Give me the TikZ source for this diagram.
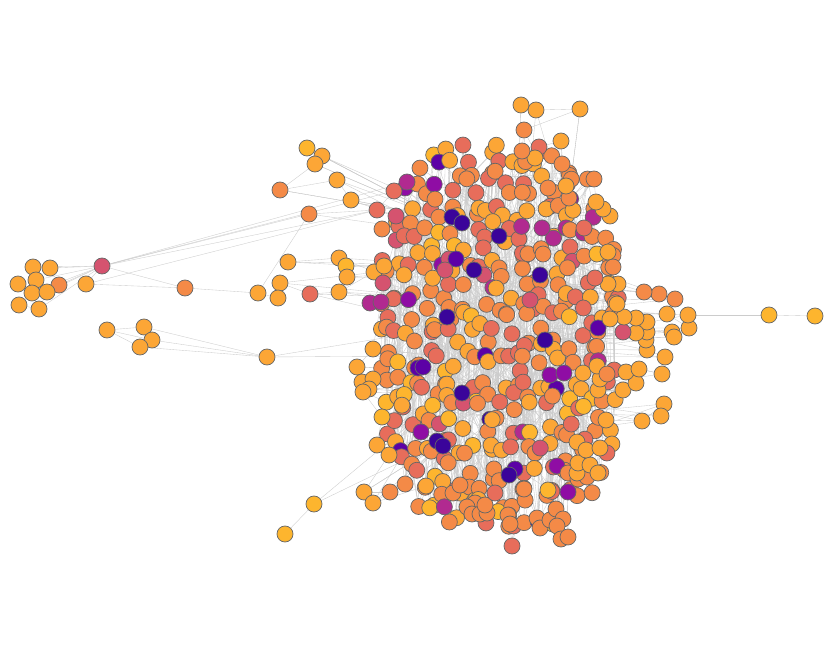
\documentclass[tikz,border=0pt]{standalone}
\usepackage{tikz}

\definecolor{plI}{HTML}{3A049A}
\definecolor{plV}{HTML}{5C01A6}
\definecolor{plP}{HTML}{8F0DA4}
\definecolor{plM}{HTML}{B12A90}
\definecolor{plK}{HTML}{D5536F}
\definecolor{plS}{HTML}{E76D5B}
\definecolor{plO}{HTML}{F48A47}
\definecolor{plY}{HTML}{FCA636}
\definecolor{plG}{HTML}{FDB52E}

\pgfdeclarelayer{paper}
\pgfdeclarelayer{edges}
\pgfsetlayers{paper,edges,main}

\newcount\kcount

\tikzset{
  dot/.style={circle, draw=black!60, line width=0.6pt, minimum size=0.48cm, inner sep=0pt},
  link/.style={draw=black!20, line width=0.3pt},
}

% nodes round the dense part: x/y/colour
\newcommand\rimlist{307/148/plG, 322/156/plY, 315/164/plY, 280/190/plO, 337/180/plY, 351/200/plY,
  396/216/plK, 382/229/plO, 288/262/plY, 339/258/plY, 346/266/plG, 347/277/plY, 280/283/plY,
  310/294/plS, 339/292/plY, 374/272/plY, 384/266/plY, 383/283/plK, 370/303/plM, 381/302/plM,
  373/349/plY, 357/367/plY, 362/382/plY, 373/379/plY, 369/389/plY, 363/392/plY, 382/417/plG,
  377/445/plY, 389/455/plY, 364/492/plY, 390/492/plO, 373/503/plY,
  426/486/plY, 453/493/plO, 460/485/plO, 475/503/plO, 467/507/plO, 472/514/plO, 480/514/plO,
  487/513/plO, 485/505/plO, 495/493/plS, 508/515/plO, 510/524/plO, 512/546/plS, 524/489/plO,
  537/518/plO, 540/528/plO, 550/520/plO, 556/509/plO, 563/519/plO, 557/526/plO, 561/539/plO,
  568/537/plO, 548/490/plG, 568/473/plO, 578/479/plO, 587/477/plO,
  577/473/plY, 578/463/plY, 590/465/plY, 598/473/plY,
  577/442/plY, 586/450/plY, 600/448/plY, 606/420/plY, 642/421/plY, 664/404/plY, 661/416/plY,
  598/390/plY, 623/390/plY, 636/383/plY, 600/379/plY, 583/373/plY, 597/366/plY, 607/374/plO,
  626/372/plY, 639/369/plY, 662/374/plY, 665/357/plY, 647/350/plY,
  646/340/plY, 647/332/plY, 647/322/plY, 636/333/plY, 636/318/plY, 623/332/plK, 624/317/plY,
  610/319/plY, 617/304/plY, 672/332/plY, 674/337/plY, 689/328/plY, 667/314/plY, 675/299/plO,
  659/294/plO, 644/292/plO, 618/284/plY, 608/284/plY, 595/278/plS, 613/267/plO, 597/254/plG,
  608/252/plY, 584/228/plS, 610/216/plY, 603/209/plY, 596/202/plY, 594/179/plO, 569/198/plO,
  566/186/plY, 548/188/plO, 562/164/plO, 561/141/plY, 539/147/plS, 535/158/plY, 522/151/plO,
  524/130/plO, 580/109/plY, 536/110/plY, 521/105/plY}

% dark ones inside the dense part
\newcommand\darklist{452/217/plI, 462/223/plI, 499/236/plI, 456/259/plV, 474/270/plI,
  540/275/plI, 447/317/plI, 542/228/plM, 545/340/plI, 418/368/plV, 423/367/plV, 462/393/plI,
  550/375/plP, 564/373/plP, 421/432/plP, 437/441/plI, 443/446/plI, 515/469/plV, 509/475/plI,
  557/466/plP, 568/492/plP, 445/270/plK, 530/300/plK}

\begin{document}
\begin{tikzpicture}[x=0.03cm, y=-0.03cm]
\useasboundingbox (0,0) rectangle (833,651);
\begin{pgfonlayer}{paper}
\fill[white] (0,0) rectangle (833,651);
\end{pgfonlayer}

% dense middle
\pgfmathsetseed{2718}
\global\kcount=0
\foreach \gx in {0,...,16}{
  \foreach \gy in {0,...,26}{
    \pgfmathsetmacro\kx{380+15*\gx+9*rand}
    \pgfmathsetmacro\ky{140+15*\gy+9*rand}
    \pgfmathtruncatemacro\inside{(abs(\kx-500)/120)^3+(abs(\ky-335)/195)^3<1}
    \ifnum\inside=1
      \global\advance\kcount by 1
      \edef\kname{k\the\kcount}
      \pgfmathsetmacro\rc{rnd}
      \ifdim\rc pt<0.06pt \def\kc{plG}\else
      \ifdim\rc pt<0.32pt \def\kc{plY}\else
      \ifdim\rc pt<0.70pt \def\kc{plO}\else
      \ifdim\rc pt<0.90pt \def\kc{plS}\else
      \ifdim\rc pt<0.94pt \def\kc{plK}\else
      \ifdim\rc pt<0.97pt \def\kc{plM}\else
      \ifdim\rc pt<0.98pt \def\kc{plP}\else
      \ifdim\rc pt<0.99pt \def\kc{plV}\else \def\kc{plI}\fi\fi\fi\fi\fi\fi\fi\fi
      \node[dot, fill=\kc, alias=g-\gx-\gy] (\kname) at (\kx,\ky) {};
    \fi
  }
}
\xdef\kmax{\the\kcount}

\foreach \x/\y/\col [count=\n] in \darklist
  \node[dot, fill=\col] (d\n) at (\x,\y) {};

% rim
\foreach \x/\y/\col [count=\n] in \rimlist
  \node[dot, fill=\col] (o\n) at (\x,\y) {};

\node[dot,fill=plS] (t1) at (394,191) {};
\node[dot,fill=plM] (t2) at (407,182) {};
\node[dot,fill=plS] (t3) at (377,210) {};
\node[dot,fill=plO] (t4) at (309,214) {};
\node[dot,fill=plY] (e1) at (688,315) {};
\node[dot,fill=plG] (f1) at (769,315) {};
\node[dot,fill=plG] (f2) at (815,316) {};
\node[dot,fill=plG] (s1) at (314,504) {};
\node[dot,fill=plG] (s2) at (285,534) {};

% far left group
\node[dot,fill=plY] (w1) at (33,267) {};
\node[dot,fill=plY] (w2) at (50,268) {};
\node[dot,fill=plY] (w3) at (18,284) {};
\node[dot,fill=plY] (w4) at (36,280) {};
\node[dot,fill=plO] (w5) at (59,285) {};
\node[dot,fill=plY] (w6) at (32,293) {};
\node[dot,fill=plY] (w7) at (47,292) {};
\node[dot,fill=plY] (w8) at (19,305) {};
\node[dot,fill=plY] (w9) at (39,309) {};
\node[dot,fill=plK] (w10) at (102,266) {};
\node[dot,fill=plY] (w11) at (86,284) {};
\node[dot,fill=plO] (w12) at (185,288) {};
\node[dot,fill=plY] (w13) at (258,293) {};
\node[dot,fill=plY] (w14) at (278,298) {};

% lower left group
\node[dot,fill=plY] (v1) at (107,330) {};
\node[dot,fill=plY] (v2) at (144,327) {};
\node[dot,fill=plY] (v3) at (152,340) {};
\node[dot,fill=plY] (v4) at (140,347) {};
\node[dot,fill=plY] (v5) at (267,357) {};

\begin{pgfonlayer}{edges}
\foreach \i in {1,...,\kmax}{
  \foreach \e in {1,2}{
    \pgfmathtruncatemacro\j{max(1,min(\kmax,\i+round(30*rand)))}
    \draw[link] (k\i) -- (k\j);
  }
  \pgfmathtruncatemacro\j{1+int(rnd*(\kmax-1))}
  \draw[link] (k\i) -- (k\j);
}

\xdef\lastx{0}\xdef\lasty{0}
\foreach \x/\y/\col [count=\n] in \rimlist{
  \pgfmathtruncatemacro\tx{max(4,min(12,round((\x-380)/15)))}
  \pgfmathtruncatemacro\ty{max(5,min(20,round((\y-140)/15)))}
  \draw[link] (o\n) -- (g-\tx-\ty);
  \pgfmathtruncatemacro\tx{max(4,min(12,\tx+round(2*rand)))}
  \pgfmathtruncatemacro\ty{max(5,min(20,\ty+round(2*rand)))}
  \draw[link] (o\n) -- (g-\tx-\ty);
  \ifnum\n>1
    \pgfmathtruncatemacro\near{veclen(\x-\lastx,\y-\lasty)<60}
    \ifnum\near=1
      \pgfmathtruncatemacro\m{\n-1}
      \draw[link] (o\n) -- (o\m);
    \fi
  \fi
  \xdef\lastx{\x}\xdef\lasty{\y}
}

\foreach \a/\b in {w1/w2, w1/w4, w3/w4, w4/w6, w6/w7, w7/w5, w2/w5, w6/w8, w7/w9, w8/w9, w4/w7,
    w10/w1, w10/w2, w10/w4, w10/w5, w10/w6, w10/w7, w10/w9, w10/w11, w10/w12, w11/w12,
    w12/w13, w13/w14, w10/t1, w10/t2, w10/t3, w10/t4, w11/t3, w13/t4,
    v1/v2, v1/v3, v1/v4, v2/v3, v3/v4, v2/v5, v3/v5, v4/v5, v5/g-4-14, v5/g-4-13,
    e1/f1, f1/f2, e1/g-12-12, e1/g-12-13, s2/s1, s1/g-4-18, s1/g-4-20,
    t1/g-4-5, t2/g-5-5, t3/g-4-6, t4/g-4-6, t1/t2, t1/t3, t4/t3}
  \draw[link] (\a) -- (\b);
\end{pgfonlayer}
\end{tikzpicture}
\end{document}
